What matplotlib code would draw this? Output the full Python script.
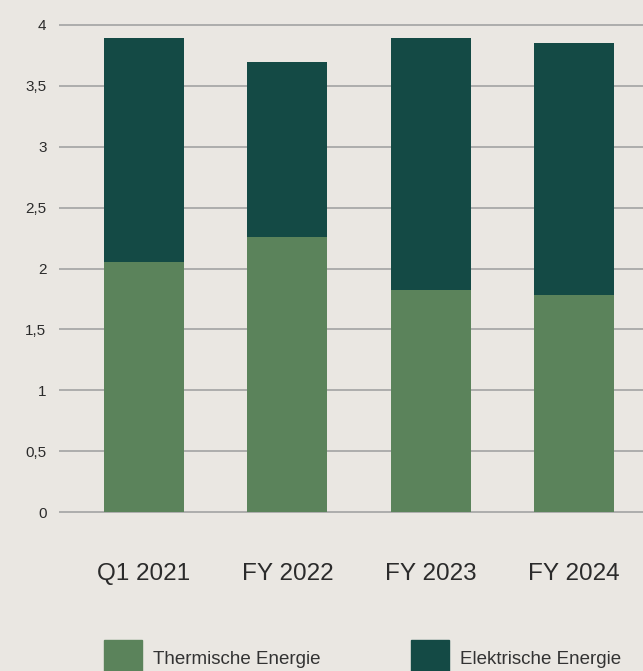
import matplotlib
matplotlib.use('Agg')
import matplotlib.pyplot as plt
from matplotlib.patches import Rectangle
from matplotlib.ticker import FuncFormatter

# ---- data -------------------------------------------------------------
categories = ['Q1 2021', 'FY 2022', 'FY 2023', 'FY 2024']
thermal    = [2.05, 2.26, 1.82, 1.78]          # Thermische Energie
electric   = [1.84, 1.44, 2.07, 2.07]          # Elektrische Energie
series_labels = ['Thermische Energie', 'Elektrische Energie']

BG      = '#EAE7E2'
C_THERM = '#5B835B'
C_ELEC  = '#144A45'
GRID    = '#A3A3A3'
TXT     = '#2B2B2B'

plt.rcParams['font.family'] = ['Liberation Sans', 'DejaVu Sans']

W, H = 643, 671
fig = plt.figure(figsize=(W / 100, H / 100), dpi=100, facecolor=BG)

# axes placement in pixels: y=0 at 512 px, y=4 at 25 px, plot from x=59 px
px_per_unit = (512 - 25) / 4.0
ylo, yhi = -0.05, 4.05
ax_bot = 512 + (0 - ylo) * px_per_unit
ax_top = 25 - (yhi - 4) * px_per_unit
ax = fig.add_axes([59 / W, 1 - ax_bot / H, (W - 59) / W, (ax_bot - ax_top) / H])
ax.set_facecolor(BG)

x = list(range(len(categories)))
step = 143.33
ax.set_xlim(-(144 - 59) / step, (W - 144) / step)
ax.set_ylim(ylo, yhi)

bw = 80 / step
ax.bar(x, thermal, width=bw, color=C_THERM, zorder=3)
ax.bar(x, electric, width=bw, bottom=thermal, color=C_ELEC, zorder=3)

yt = [i * 0.5 for i in range(9)]
ax.set_yticks(yt)
ax.yaxis.set_major_formatter(FuncFormatter(
    lambda v, _: ('%g' % v).replace('.', ',')))
for v in yt:
    ax.axhline(v, color=GRID, lw=1.2, zorder=1)

ax.set_xticks(x)
ax.set_xticklabels(categories, fontsize=17.5, color=TXT)
ax.tick_params(axis='x', length=0, pad=32)
ax.tick_params(axis='y', length=0, pad=9, labelsize=11, labelcolor=TXT)
for s in ax.spines.values():
    s.set_visible(False)

# legend: squares cut by the bottom edge
leg_x = [104, 411]
for lx, lab, col in zip(leg_x, series_labels, [C_THERM, C_ELEC]):
    fig.add_artist(Rectangle((lx / W, 1 - 678 / H), 38 / W, 38 / H,
                             transform=fig.transFigure, color=col,
                             clip_on=False))
    fig.text((lx + 49) / W, 1 - 660 / H, lab, fontsize=13.5, color='#333333',
             va='center', ha='left')

fig.savefig('out.png', dpi=100, facecolor=BG)
